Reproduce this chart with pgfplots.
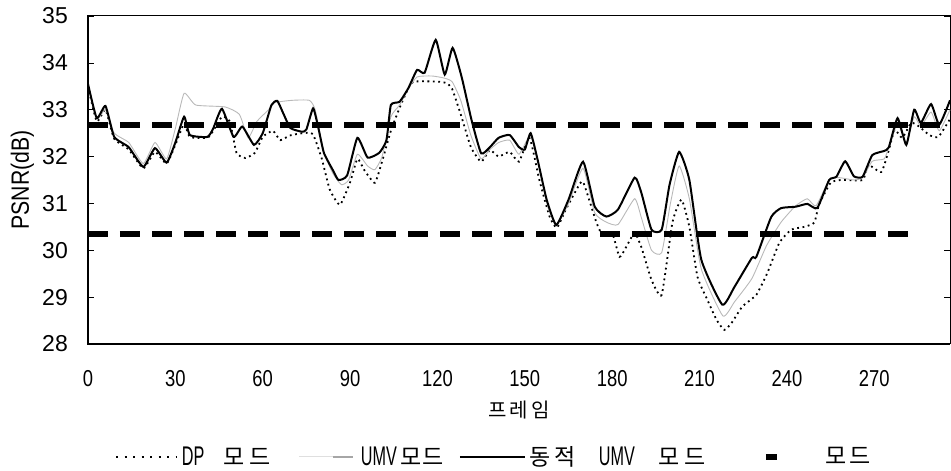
\documentclass[border=0pt]{standalone}
\usepackage{fontspec}
\setmainfont{Liberation Sans}
\newfontfamily\kr{Noto Sans CJK KR}
\newfontfamily\narrow[FakeStretch=0.8]{Liberation Sans}
\newfontfamily\ylabfont[FakeStretch=0.85]{Liberation Sans}
\newfontfamily\legfont[FakeStretch=0.6]{Liberation Sans}
\usepackage{pgfplots}
\usepackage{pgfplotstable}
\pgfplotsset{compat=1.18}

% legend text pieces
\newcommand{\lat}[1]{{\legfont\fontsize{27}{27}\selectfont #1}}
\newcommand{\han}[1]{{\kr\fontsize{23}{23}\selectfont #1}}

% PSNR per frame, dynamic UMV mode
\pgfplotstableread{
f psnr
0 33.55
3 32.82
6 33.08
9 32.42
14 32.2
19 31.78
23 32.18
27 31.87
30 32.3
33 32.85
35 32.46
41 32.42
43 32.6
46 33.02
50 32.42
53 32.64
57 32.25
60 32.5
63 33.1
65 33.19
67 32.93
69.5 32.61
73.5 32.53
75 32.58
77.3 33.03
79 32.64
81 32.08
84 31.72
86 31.5
89 31.6
92.5 32.4
96 31.98
100 32.08
102.5 32.35
104 33.1
107 33.17
110 33.46
113 33.85
115.6 33.79
119.4 34.49
122.5 33.75
125.2 34.32
128.3 33.7
131.7 32.78
135 32.07
138 32.2
141 32.4
144.8 32.46
148 32.2
150 32.15
152 32.5
154.4 31.93
157.5 31.08
160.8 30.54
165 31.08
170 31.89
174 30.93
178 30.72
182 30.87
187.7 31.55
190 31.23
193.5 30.44
197 30.44
199.7 31.4
203 32.1
206.5 31.5
210.6 29.8
217.8 28.84
222 29.22
228 29.84
229.5 29.86
234.6 30.71
238 30.9
243 30.93
247 30.99
250.4 30.9
254.5 31.5
257 31.57
260 31.9
263 31.58
266 31.57
269.3 32.03
273.4 32.12
275 32.2
278 32.82
281 32.25
283.7 33.0
286 32.72
289.5 33.12
292.3 32.68
296 33.2
}\dyntable

% PSNR per frame, DP mode
\pgfplotstableread{
f psnr
0 33.5
3 32.75
6 33.0
9 32.38
14 32.15
19 31.75
23 32.1
27 31.85
30 32.25
33 32.7
35 32.42
41 32.4
43 32.55
46 32.85
48.7 32.75
51 32.08
54 31.97
57.3 32.08
60 32.42
63.5 32.55
66 32.35
69.3 32.45
73.8 32.5
77.2 32.48
80.3 31.95
83 31.3
86.5 30.97
90 31.45
92.5 31.95
95 31.7
98.5 31.44
101 31.9
104 32.55
107 33.04
110 33.46
112 33.6
120 33.6
123 33.57
125 33.45
128 32.9
131.5 32.2
135 31.89
138 32.14
141 32.0
144.8 32.1
148 31.89
151.6 32.4
155 31.5
158.5 30.72
161 30.48
164 30.86
167.7 31.29
170 31.46
174.6 30.59
177 30.29
180 30.37
182.5 29.86
184.8 30.07
187.7 30.37
190 30.07
193.5 29.37
197 29.05
200.7 30.6
203.8 31.08
206.5 30.5
209.3 29.43
212.7 28.94
215.8 28.52
218.5 28.3
221 28.45
224.7 28.8
229.5 29.05
233.3 29.52
237.4 30.16
241.5 30.44
246 30.5
249.4 30.59
251 30.97
255 31.44
258.6 31.5
266 31.5
268 31.82
272.4 31.67
275 32.14
277 32.57
279.6 32.4
282.7 32.72
285.4 32.64
288.9 32.46
292 32.42
296 32.8
}\dptable

% PSNR per frame, UMV mode
\pgfplotstableread{
f psnr
0 33.5
3 32.8
6 33.0
9 32.5
14 32.3
19 31.85
23 32.3
27 31.95
30 32.6
33 33.35
37 33.1
47 33.06
52 32.9
55 32.4
58 32.75
62 33.0
64 33.15
70 33.2
76 33.2
78 33.0
81 32.1
84 31.65
87 31.4
89.5 31.5
92.5 32.05
96 31.8
98.5 31.72
101 32.0
104 32.85
107 33.1
110 33.45
113 33.7
118 33.72
122 33.68
125 33.6
128 33.2
131.5 32.45
135 31.95
138 32.15
141 32.3
144.8 32.35
148 32.05
152 32.45
155 31.75
158 30.9
161 30.55
165 31.0
170 31.75
174 30.8
178 30.6
182 30.55
187.7 31.1
190 30.7
193.5 30.0
197 29.95
200 31.0
203 31.8
206.5 31.1
210.6 29.6
218 28.6
222 28.9
228 29.4
233 30.1
238 30.6
243 30.95
247 31.1
250 30.95
254.5 31.5
258 31.55
263 31.5
266 31.55
269.3 31.9
273.4 31.95
275 32.2
278 32.7
281 32.3
283.7 32.85
286 32.65
289.5 32.95
292.3 32.55
296 33.0
}\umvtable

\begin{document}
\begin{tikzpicture}
\useasboundingbox (0,0) rectangle (951pt,471pt);
\begin{axis}[
  at={(88pt,127pt)}, anchor=south west,
  scale only axis, width=862pt, height=328pt,
  xmin=0, xmax=296, ymin=28, ymax=35,
  xtick={0,30,...,270}, ytick={28,...,35},
  clip=false,
  tick align=inside, major tick length=6pt,
  xtick style={draw=none},
  ytick style={line width=0.6pt, black},
  axis line style={line width=1pt},
  tick label style={/pgf/number format/assume math mode=true},
  yticklabel style={font=\fontsize{23}{23}\selectfont, anchor=east, inner sep=0pt, xshift=-20pt},
  xticklabel style={font=\narrow\fontsize{23}{23}\selectfont, anchor=center, inner sep=0pt, yshift=-35pt},
  ylabel={PSNR(dB)},
  ylabel style={font=\ylabfont\fontsize{25}{25}\selectfont, at={(axis description cs:-0.076,0.5)}, anchor=center},
  xlabel={\kr 프\,레\,임},
  xlabel style={font=\fontsize{20}{20}\selectfont, at={(axis description cs:0.5,-0.201)}, anchor=center},
  legend columns=4,
  legend style={at={(axis description cs:0.0313,-0.3445)}, anchor=west, draw=none, fill=none,
    inner sep=0pt, cells={inner sep=0pt},
    /tikz/every even column/.append style={column sep=0pt}},
  legend cell align=left,
]
\addplot[black, line width=1.8pt, dash pattern=on 1.8pt off 3.6pt, smooth, tension=0.3,
  legend image code/.code={\draw[black,line width=1.8pt,dash pattern=on 2pt off 6.5pt] (0pt,0pt) -- (60pt,0pt); \path (63pt,0pt);}]
  table[x=f, y=psnr] {\dptable};
\addlegendentry{\makebox[89pt][l]{\lat{DP}\hfill\han{모}\hspace{5pt}\han{드}}}
\addplot[gray!55, line width=0.9pt, smooth, tension=0.3,
  legend image code/.code={\path (-26pt,0pt); \draw[gray!25,line width=1pt] (0pt,0pt) -- (34pt,0pt); \draw[gray!70,line width=1.2pt] (34pt,0pt) -- (54pt,0pt); \path (59pt,0pt);}]
  table[x=f, y=psnr] {\umvtable};
\addlegendentry{\makebox[76pt][l]{\lat{UMV}\hspace{4pt}\han{모}\hfill\han{드}}}
\addplot[black, line width=2pt, smooth, tension=0.3,
  legend image code/.code={\path (-20pt,0pt); \draw[black,line width=1.5pt] (0pt,0pt) -- (65pt,0pt); \path (67pt,0pt);}]
  table[x=f, y=psnr] {\dyntable};
\addlegendentry{\makebox[176pt][l]{\han{동}\hspace{3pt}\han{적}\hfill\lat{UMV}\hfill\han{모}\hspace{5pt}\han{드}}}
\addplot[black, line width=6pt, dash pattern=on 20pt off 12pt,
  legend image code/.code={\path (-55pt,0pt); \draw[black,line width=6pt] (0pt,0pt) -- (11pt,0pt); \path (55pt,0pt);}]
  coordinates {(0,32.68) (296,32.68)};
\addlegendentry{\makebox[45pt][l]{\han{모}\hfill\han{드}}}
\addplot[black, line width=6pt, dash pattern=on 20pt off 12pt, forget plot]
  coordinates {(0,30.35) (283,30.35)};
\draw[line width=2pt] (rel axis cs:0,1) -- (rel axis cs:0,0) -- (rel axis cs:1,0);
\end{axis}
\end{tikzpicture}
\end{document}
